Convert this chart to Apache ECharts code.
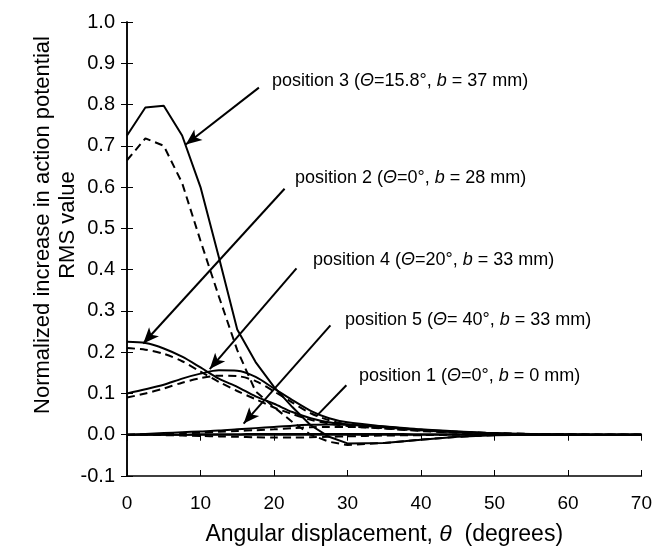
<!DOCTYPE html>
<html>
<head>
<meta charset="utf-8">
<script src="https://cdn.jsdelivr.net/npm/echarts@6/dist/echarts.min.js"></script>
<style>
  html, body { margin: 0; padding: 0; background: #fff; }
  #chart { width: 655px; height: 553px; }
</style>
</head>
<body>
<div id="chart"></div>
<script>
(function() {
  // angular displacement (degrees)
  var angles = [0, 2.5, 5, 7.5, 10, 12.5, 15, 17.5, 20, 22.5, 25, 27.5, 30, 35, 40, 45, 50, 55, 60, 65, 70];

  // normalized increase in RMS, solid and dashed curve per position
  var pos3Solid  = [0.725, 0.793, 0.797, 0.725, 0.600, 0.430, 0.255, 0.176, 0.116, 0.067, 0.023, -0.005, -0.021, -0.020, -0.012, -0.005, -0.001, 0, 0, 0, 0];
  var pos3Dashed = [0.665, 0.718, 0.700, 0.610, 0.470, 0.335, 0.205, 0.105, 0.067, 0.031, 0.000, -0.017, -0.025, -0.020, -0.012, -0.005, -0.001, 0, 0, 0, 0];
  var pos2Solid  = [0.225, 0.222, 0.209, 0.189, 0.163, 0.136, 0.116, 0.093, 0.075, 0.055, 0.040, 0.030, 0.025, 0.018, 0.011, 0.006, 0.003, 0.001, 0, 0, 0];
  var pos2Dashed = [0.210, 0.206, 0.196, 0.178, 0.153, 0.128, 0.106, 0.086, 0.066, 0.050, 0.036, 0.027, 0.021, 0.015, 0.009, 0.005, 0.002, 0.001, 0, 0, 0];
  var pos4Solid  = [0.100, 0.110, 0.121, 0.136, 0.148, 0.156, 0.155, 0.140, 0.112, 0.084, 0.058, 0.040, 0.030, 0.020, 0.012, 0.007, 0.003, 0.001, 0, 0, 0];
  var pos4Dashed = [0.090, 0.100, 0.112, 0.126, 0.137, 0.143, 0.142, 0.130, 0.105, 0.078, 0.052, 0.035, 0.025, 0.016, 0.010, 0.006, 0.003, 0.001, 0, 0, 0];
  var pos5Solid  = [0, 0.002, 0.004, 0.006, 0.008, 0.010, 0.013, 0.016, 0.019, 0.022, 0.024, 0.025, 0.024, 0.020, 0.013, 0.008, 0.004, 0.002, 0.001, 0, 0];
  var pos5Dashed = [0, 0.001, 0.002, 0.003, 0.005, 0.007, 0.009, 0.011, 0.013, 0.016, 0.018, 0.019, 0.019, 0.016, 0.011, 0.007, 0.004, 0.002, 0.001, 0, 0];
  var pos1Solid  = [0, 0, 0, 0, 0.001, 0.001, 0.001, 0.002, 0.002, 0.002, 0.002, 0.002, 0.002, 0.002, 0.001, 0.001, 0.001, 0, 0, 0, 0];
  var pos1Dashed = [0, 0, -0.001, -0.002, -0.003, -0.004, -0.005, -0.006, -0.007, -0.007, -0.006, -0.005, -0.004, -0.002, -0.001, 0, 0, 0, 0, 0, 0];

  // annotation labels: [prefix, theta value, b value]
  var labelPos = ['position 3 (', 'position 2 (', 'position 4 (', 'position 5 (', 'position 1 ('];
  var labelTheta = ['=15.8°, ', '=0°, ', '=20°, ', '= 40°, ', '=0°, '];
  var labelB = [' = 37 mm)', ' = 28 mm)', ' = 33 mm)', ' = 33 mm)', ' = 0 mm)'];
  var labelXY = [[272, 83], [295, 180], [313, 262], [345, 322], [359, 378]];

  // arrows in data coords: [from, to]
  var arrowFrom = [[17.95, 0.841], [21.44, 0.596], [23.06, 0.403], [27.68, 0.265], [29.85, 0.120]];
  var arrowTo   = [[8.0, 0.703], [2.21, 0.221], [11.26, 0.159], [15.87, 0.027], [25.78, 0.045]];
  var arrowHead = [true, true, true, true, false];

  var font = 'Liberation Sans, Arial, Helvetica, sans-serif';
  var ink = '#000';

  function pairs(ys) {
    return angles.map(function(a, i) { return [a, ys[i]]; });
  }

  function curve(ys, dashed, smooth) {
    return {
      type: 'line',
      data: pairs(ys),
      showSymbol: false,
      smooth: smooth ? 0.3 : false,
      silent: true,
      lineStyle: { color: ink, width: 2, type: dashed ? [8, 5] : 'solid' },
      z: 3
    };
  }

  var arrowLines = arrowFrom.map(function(f, i) {
    return [
      { coord: f, symbol: 'none' },
      { coord: arrowTo[i], symbol: arrowHead[i] ? 'arrow' : 'none' }
    ];
  });

  var annotations = labelXY.map(function(p, i) {
    return {
      type: 'text',
      left: p[0],
      top: p[1] - 11,
      style: {
        text: labelPos[i] + '{it|Θ}' + labelTheta[i] + '{it|b}' + labelB[i],
        font: '18px ' + font,
        fill: ink,
        rich: { it: { fontStyle: 'italic', fontSize: 18, fontFamily: font } }
      }
    };
  });

  annotations.push({
    type: 'text',
    rotation: Math.PI / 2,
    x: 55,
    y: 225,
    style: {
      text: 'Normalized increase in action potential\nRMS value',
      font: '22px ' + font,
      fill: ink,
      align: 'center',
      verticalAlign: 'middle',
      lineHeight: 25
    }
  });

  var chart = echarts.init(document.getElementById('chart'), null, { renderer: 'canvas' });
  chart.setOption({
    animation: false,
    backgroundColor: '#fff',
    textStyle: { fontFamily: font },
    grid: { left: 127, right: 12, top: 22, bottom: 77 },
    xAxis: [{
      type: 'value',
      min: 0,
      max: 70,
      interval: 10,
      name: 'Angular displacement, {it|θ}  (degrees)',
      nameLocation: 'middle',
      nameGap: 47,
      nameTextStyle: {
        color: ink, fontSize: 23, fontFamily: font,
        rich: { it: { fontStyle: 'italic', fontSize: 23, fontFamily: font } }
      },
      axisLine: { onZero: false, lineStyle: { color: ink, width: 1.5 } },
      axisTick: { inside: true, length: 6, lineStyle: { color: ink } },
      axisLabel: { color: ink, fontSize: 19, margin: 18 },
      splitLine: { show: false }
    }, {
      type: 'value',
      position: 'top',
      min: 0,
      max: 70,
      interval: 10,
      axisLine: { lineStyle: { color: ink, width: 1.5 } },
      axisTick: { inside: true, length: 6, lineStyle: { color: ink } },
      axisLabel: { show: false },
      splitLine: { show: false }
    }],
    yAxis: [{
      type: 'value',
      min: -0.1,
      max: 1.0,
      interval: 0.1,
      axisLine: { show: true, onZero: false, lineStyle: { color: ink, width: 1.5 } },
      axisTick: { show: true, inside: true, length: 6, lineStyle: { color: ink } },
      axisLabel: {
        color: ink, fontSize: 20, margin: 12,
        formatter: function(v) { return v.toFixed(1); }
      },
      splitLine: { show: false }
    }, {
      type: 'value',
      position: 'right',
      min: -0.1,
      max: 1.0,
      interval: 0.1,
      axisLine: { show: true, lineStyle: { color: ink, width: 1.5 } },
      axisTick: { show: true, inside: true, length: 6, lineStyle: { color: ink } },
      axisLabel: { show: false },
      splitLine: { show: false }
    }],
    series: [
      curve(pos3Solid, false, false),
      curve(pos3Dashed, true, false),
      curve(pos2Solid, false, true),
      curve(pos2Dashed, true, true),
      curve(pos4Solid, false, true),
      curve(pos4Dashed, true, true),
      curve(pos5Solid, false, true),
      curve(pos5Dashed, true, true),
      curve(pos1Solid, false, true),
      curve(pos1Dashed, true, true),
      {
        type: 'line',
        data: [],
        silent: true,
        markLine: {
          silent: true,
          animation: false,
          symbolSize: [10, 16],
          label: { show: false },
          lineStyle: { color: ink, width: 2, type: 'solid' },
          emphasis: { disabled: true },
          data: arrowLines
        }
      }
    ],
    graphic: annotations
  });
})();
</script>
</body>
</html>
